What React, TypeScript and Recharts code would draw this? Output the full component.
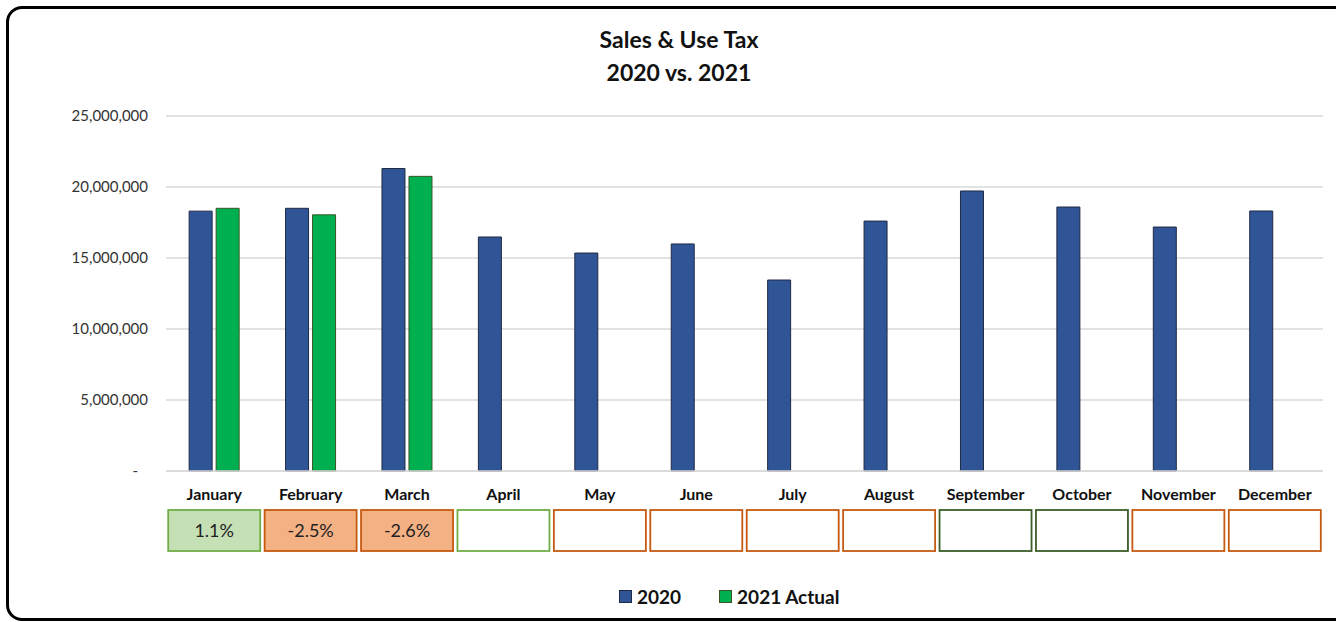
import React from "react";
import { BarChart, Bar, XAxis, YAxis, CartesianGrid } from "recharts";

// ---------------------------------------------------------------------------
// Data
// ---------------------------------------------------------------------------

const MONTHS = [
  "January", "February", "March", "April", "May", "June",
  "July", "August", "September", "October", "November", "December",
];

const SALES_2020 = [
  18300000, 18500000, 21300000, 16480000, 15350000, 15990000,
  13450000, 17600000, 19720000, 18590000, 17180000, 18310000,
];

const ACTUAL_2021: (number | null)[] = [
  18500000, 18040000, 20750000, null, null, null,
  null, null, null, null, null, null,
];

const CHANGE_LABELS = ["1.1%", "-2.5%", "-2.6%", "", "", "", "", "", "", "", "", ""];

// box outline tone under each month
const BOX_TONES = [
  "upFill", "downFill", "downFill", "up", "down", "down",
  "down", "down", "upDark", "upDark", "down", "down",
];

const Y_TICKS = [0, 5000000, 10000000, 15000000, 20000000, 25000000];

const TONE_STYLE: Record<string, { fill: string; stroke: string }> = {
  upFill: { fill: "#C5E0B4", stroke: "#70AD47" },
  downFill: { fill: "#F4B183", stroke: "#C55A11" },
  up: { fill: "#FFFFFF", stroke: "#70AD47" },
  upDark: { fill: "#FFFFFF", stroke: "#3B5E29" },
  down: { fill: "#FFFFFF", stroke: "#C55A11" },
};

const data = MONTHS.map((m, i) => ({
  month: m,
  y2020: SALES_2020[i],
  y2021: ACTUAL_2021[i],
  change: CHANGE_LABELS[i],
  tone: BOX_TONES[i],
}));

const FONT = "Lato, 'Open Sans', sans-serif";

// ---------------------------------------------------------------------------
// Ticks / legend
// ---------------------------------------------------------------------------

// eslint-disable-next-line @typescript-eslint/no-explicit-any
function YTick({ x, y, payload }: Record<string, any>) {
  const v = payload.value as number;
  return (
    <text
      x={v === 0 ? x - 10 : x}
      y={y}
      dy={5}
      textAnchor="end"
      fontSize={15}
      fontFamily={FONT}
      fill="#333"
    >
      {v === 0 ? "-" : v.toLocaleString("en-US")}
    </text>
  );
}

// eslint-disable-next-line @typescript-eslint/no-explicit-any
function MonthTick({ x, y, payload, index }: Record<string, any>) {
  const row = data[index] ?? data.find((d) => d.month === payload.value);
  const tone = TONE_STYLE[row?.tone ?? "down"];
  const boxW = 92;
  const boxH = 41;
  const top = y + 31;
  return (
    <g>
      <text
        x={x}
        y={y}
        dy={21}
        textAnchor="middle"
        fontSize={16}
        fontWeight={700}
        fontFamily={FONT}
        fill="#111"
      >
        {payload.value}
      </text>
      <rect
        x={x - boxW / 2}
        y={top}
        width={boxW}
        height={boxH}
        fill={tone.fill}
        stroke={tone.stroke}
        strokeWidth={1.8}
      />
      {row?.change ? (
        <text
          x={x}
          y={top + boxH / 2}
          dy={6}
          textAnchor="middle"
          fontSize={18}
          fontFamily={FONT}
          fill="#222"
        >
          {row.change}
        </text>
      ) : null}
    </g>
  );
}

const LEGEND_ITEMS = [
  { label: "2020", fill: "#2F5597", stroke: "#1F2A44" },
  { label: "2021 Actual", fill: "#00B050", stroke: "#375623" },
];

// ---------------------------------------------------------------------------
// Component
// ---------------------------------------------------------------------------

export default function App() {
  return (
    <div
      style={{
        position: "absolute",
        left: 0,
        top: 0,
        width: 1336,
        height: 622,
        overflow: "hidden",
        background: "#fff",
      }}
    >
      {/* frame */}
      <div
        style={{
          position: "absolute",
          left: 6,
          top: 6,
          width: 1340,
          height: 609,
          border: "3px solid #000",
          borderRadius: 16,
        }}
      />
      {/* title */}
      <div
        style={{
          position: "absolute",
          left: 0,
          top: 23,
          width: 1358,
          textAlign: "center",
          fontFamily: FONT,
          fontWeight: 700,
          fontSize: 23,
          lineHeight: "33px",
          color: "#111",
        }}
      >
        <div>Sales &amp; Use Tax</div>
        <div>2020 vs. 2021</div>
      </div>
      <div style={{ position: "absolute", left: 0, top: 0 }}>
        <BarChart
          width={1336}
          height={622}
          data={data}
          margin={{ top: 116, right: 13, bottom: 121, left: 0 }}
          barGap={4}
          barCategoryGap="24%"
        >
          <CartesianGrid vertical={false} stroke="#D9D9D9" strokeWidth={1.5} />
          <XAxis
            dataKey="month"
            height={30}
            axisLine={{ stroke: "#D9D9D9", strokeWidth: 1.5 }}
            tickLine={false}
            interval={0}
            tick={<MonthTick />}
          />
          <YAxis
            width={166}
            domain={[0, 25000000]}
            ticks={Y_TICKS}
            axisLine={false}
            tickLine={false}
            tickMargin={12}
            tick={<YTick />}
          />
          <Bar
            dataKey="y2020"
            name="2020"
            fill="#2F5597"
            stroke="#1F2A44"
            strokeWidth={1}
            isAnimationActive={false}
          />
          <Bar
            dataKey="y2021"
            name="2021 Actual"
            fill="#00B050"
            stroke="#375623"
            strokeWidth={1}
            isAnimationActive={false}
          />
        </BarChart>
      </div>
      {/* legend */}
      <div
        style={{
          position: "absolute",
          top: 585,
          left: 619,
          display: "flex",
          gap: 38,
          fontFamily: FONT,
        }}
      >
        {LEGEND_ITEMS.map((it) => (
          <div key={it.label} style={{ display: "flex", alignItems: "center", gap: 5 }}>
            <span
              style={{
                display: "inline-block",
                width: 11,
                height: 11,
                background: it.fill,
                border: `1px solid ${it.stroke}`,
              }}
            />
            <span style={{ fontSize: 19, fontWeight: 700, color: "#111" }}>{it.label}</span>
          </div>
        ))}
      </div>
    </div>
  );
}
